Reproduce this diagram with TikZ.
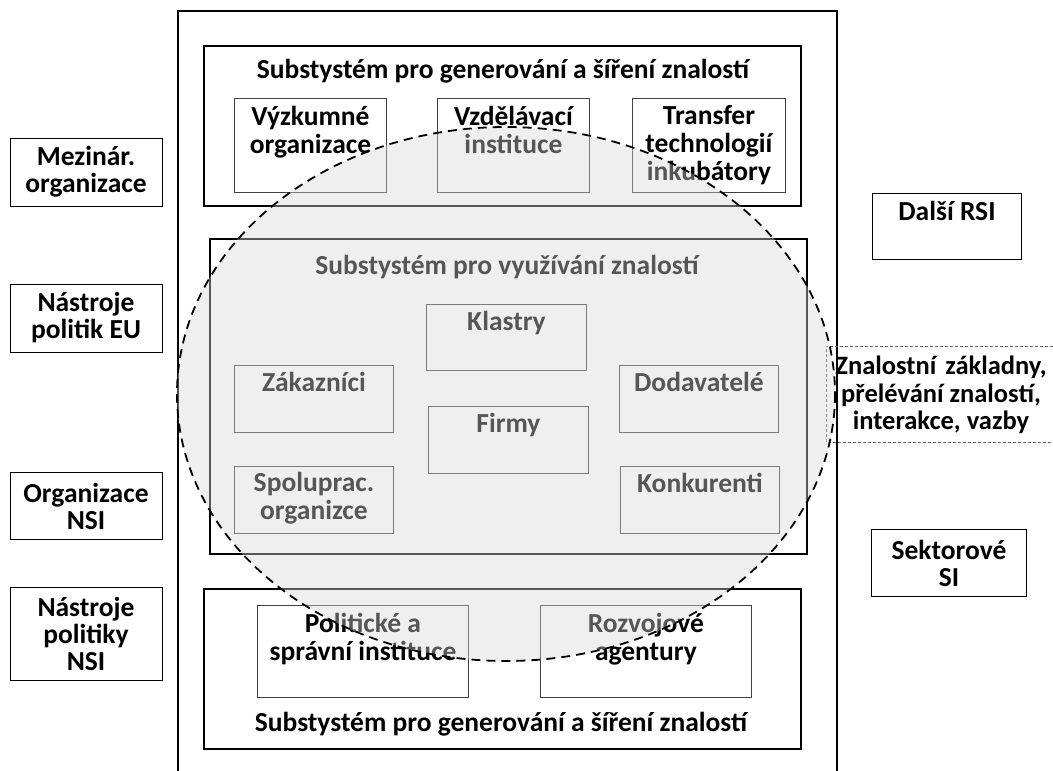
\documentclass[tikz,border=0pt]{standalone}
\usepackage{fontspec}
\setmainfont{Carlito}
\definecolor{veil}{RGB}{215,215,215}
\begin{document}
\begin{tikzpicture}[x=1pt,y=-1pt,
  frame/.style={draw=black, line width=2pt, anchor=north west, inner sep=0pt},
  cell/.style={draw=black!75, line width=0.9pt, anchor=north west, inner sep=0pt},
  txt/.style={font=\bfseries\fontsize{27.5}{28}\selectfont, align=center, inner sep=0pt},
  heading/.style={txt, anchor=base},
  top/.style={txt, anchor=north},
  side/.style={draw=black, line width=0.9pt, align=center, inner sep=0pt,
    font=\bfseries\fontsize{27.5}{27}\selectfont},
  halo/.style={draw=black, line width=1.8pt, dash pattern=on 9pt off 6pt, fill=veil, fill opacity=0.4},
  hint/.style={draw=black!60, line width=0.6pt, dash pattern=on 3pt off 2pt},
]
\useasboundingbox (0,0) rectangle (1053,771);
\clip (0,0) rectangle (1053,771);

% outer regional system frame (open at the bottom)
\node[frame, minimum width=659pt, minimum height=800pt] (rsi) at (177,10) {};

% upper subsystem
\node[frame, minimum width=597pt, minimum height=160pt] (gen) at (203,45) {};
\node[heading] (gent) at (503,78) {Substystém pro generování a šíření znalostí};
\node[cell, minimum width=152pt, minimum height=94pt] (vyz) at (234,98) {};
\node[top] (vyzt) at ([yshift=-8pt]vyz.north) {Výzkumné\\organizace};
\node[cell, minimum width=152pt, minimum height=94pt] (vzd) at (437,98) {};
\node[top] (vzdt) at ([yshift=-8pt]vzd.north) {Vzdělávací\\instituce};
\node[cell, minimum width=153pt, minimum height=94pt] (tra) at (632,98) {};
\node[top] (trat) at ([yshift=-7pt]tra.north) {Transfer\\technologií\\inkubátory};

% middle subsystem
\node[frame, minimum width=597pt, minimum height=315pt] (vyu) at (209,238) {};
\node[heading] (vyut) at (507,274) {Substystém pro využívání znalostí};
\node[cell, minimum width=160pt, minimum height=66pt] (kla) at (426,304) {};
\node[top] (klat) at ([yshift=-7pt]kla.north) {Klastry};
\node[cell, minimum width=160pt, minimum height=67pt] (fir) at (428,406) {};
\node[top] (firt) at ([yshift=-7pt]fir.north) {Firmy};
\node[cell, minimum width=159pt, minimum height=67pt] (zak) at (234,365) {};
\node[top] (zakt) at ([yshift=-7pt]zak.north) {Zákazníci};
\node[cell, minimum width=159pt, minimum height=67pt] (dod) at (619,365) {};
\node[top] (dodt) at ([yshift=-7pt]dod.north) {Dodavatelé};
\node[cell, minimum width=159pt, minimum height=67pt] (spo) at (234,466) {};
\node[top] (spot) at ([yshift=-6pt]spo.north) {Spoluprac.\\organizce};
\node[cell, minimum width=159pt, minimum height=67pt] (kon) at (620,466) {};
\node[top] (kont) at ([yshift=-7pt]kon.north) {Konkurenti};

% lower subsystem
\node[frame, minimum width=597pt, minimum height=160pt] (pol) at (203,588) {};
\node[cell, minimum width=211pt, minimum height=92pt] (spr) at (257,605) {};
\node[top] (sprt) at ([yshift=-8pt]spr.north) {Politické a\\správní instituce};
\node[cell, minimum width=211pt, minimum height=92pt] (roz) at (540,605) {};
\node[top] (rozt) at ([yshift=-8pt]roz.north) {Rozvojové\\agentury};
\node[heading] (polt) at (501,731) {Substystém pro generování a šíření znalostí};

% surrounding actors, left
\node[side, minimum width=152pt, minimum height=68pt] (mez) at (86,172) {Mezinár.\\organizace};
\node[side, minimum width=152pt, minimum height=68pt] (nEU) at (86,318) {Nástroje\\politik EU};
\node[side, minimum width=152pt, minimum height=67pt] (org) at (86,506) {Organizace\\NSI};
\node[side, minimum width=152pt, minimum height=93pt] (nNSI) at (86,634) {Nástroje\\politiky\\NSI};

% surrounding actors, right
\node[cell, draw=black, minimum width=149pt, minimum height=66pt] (dal) at (872,193) {};
\node[top] (dalt) at ([yshift=-8pt]dal.north) {Další RSI};
\node[side, minimum width=155pt, minimum height=67pt] (sek) at (949,563) {Sektorové\\SI};

% knowledge links band
\coordinate (bt) at (1053,346);
\coordinate (bb) at (1053,442);
\coordinate (bl) at (826,346);
\coordinate (bk) at (826,442);
\draw[hint] (bt) -- (bl) -- (bk) -- (bb);
\node[txt, font=\bfseries\fontsize{26.5}{27.5}\selectfont] (zna) at (941,395)
  {Znalostní\hspace{3pt} základny,\\přelévání znalostí,\\interakce, vazby};

% shared knowledge space
\draw[halo] (506,394) ellipse [x radius=329, y radius=267];
\end{tikzpicture}
\end{document}
